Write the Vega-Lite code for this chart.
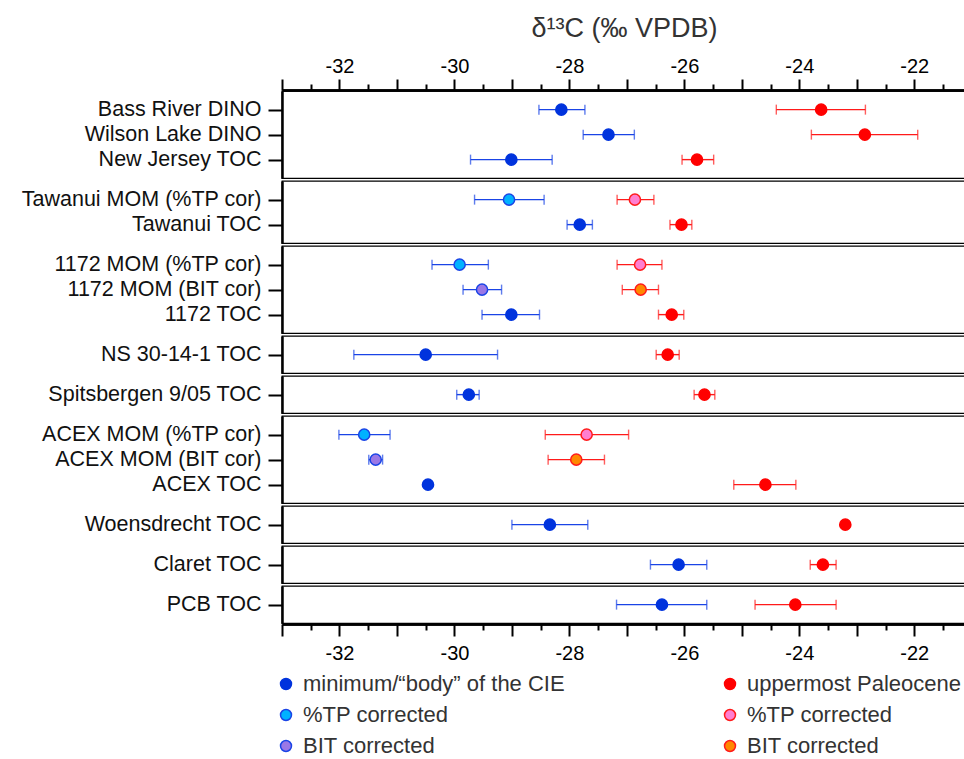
{
  "$schema": "https://vega.github.io/schema/vega-lite/v6.json",
  "padding": {"left": 20, "top": 14, "right": 0, "bottom": 0},
  "background": "white",
  "config": {
    "font": "Liberation Sans",
    "view": {"stroke": "#000", "strokeWidth": 1.3},
    "axis": {"grid": false, "domainColor": "#000", "tickColor": "#000", "labelColor": "#000", "labelFont": "Liberation Sans", "titleFont": "Liberation Sans"},
    "legend": {"labelFont": "Liberation Sans"}
  },
  "data": {"values": [
    {"group": "g1", "sample": "Bass River DINO", "series": "CIE", "x": -28.14, "lo": -28.53, "hi": -27.73},
    {"group": "g1", "sample": "Bass River DINO", "series": "Pal", "x": -23.62, "lo": -24.40, "hi": -22.85},
    {"group": "g1", "sample": "Wilson Lake DINO", "series": "CIE", "x": -27.32, "lo": -27.76, "hi": -26.87},
    {"group": "g1", "sample": "Wilson Lake DINO", "series": "Pal", "x": -22.86, "lo": -23.79, "hi": -21.94},
    {"group": "g1", "sample": "New Jersey TOC", "series": "CIE", "x": -29.01, "lo": -29.72, "hi": -28.30},
    {"group": "g1", "sample": "New Jersey TOC", "series": "Pal", "x": -25.78, "lo": -26.04, "hi": -25.49},
    {"group": "g2", "sample": "Tawanui MOM (%TP cor)", "series": "CIE_TP", "x": -29.05, "lo": -29.65, "hi": -28.44},
    {"group": "g2", "sample": "Tawanui MOM (%TP cor)", "series": "Pal_TP", "x": -26.86, "lo": -27.17, "hi": -26.53},
    {"group": "g2", "sample": "Tawanui TOC", "series": "CIE", "x": -27.82, "lo": -28.04, "hi": -27.60},
    {"group": "g2", "sample": "Tawanui TOC", "series": "Pal", "x": -26.05, "lo": -26.25, "hi": -25.87},
    {"group": "g3", "sample": "1172 MOM (%TP cor)", "series": "CIE_TP", "x": -29.91, "lo": -30.39, "hi": -29.41},
    {"group": "g3", "sample": "1172 MOM (%TP cor)", "series": "Pal_TP", "x": -26.77, "lo": -27.17, "hi": -26.39},
    {"group": "g3", "sample": "1172 MOM (BIT cor)", "series": "CIE_BIT", "x": -29.52, "lo": -29.85, "hi": -29.18},
    {"group": "g3", "sample": "1172 MOM (BIT cor)", "series": "Pal_BIT", "x": -26.76, "lo": -27.08, "hi": -26.45},
    {"group": "g3", "sample": "1172 TOC", "series": "CIE", "x": -29.01, "lo": -29.52, "hi": -28.52},
    {"group": "g3", "sample": "1172 TOC", "series": "Pal", "x": -26.22, "lo": -26.45, "hi": -26.01},
    {"group": "g4", "sample": "NS 30-14-1 TOC", "series": "CIE", "x": -30.50, "lo": -31.75, "hi": -29.25},
    {"group": "g4", "sample": "NS 30-14-1 TOC", "series": "Pal", "x": -26.29, "lo": -26.49, "hi": -26.09},
    {"group": "g5", "sample": "Spitsbergen 9/05 TOC", "series": "CIE", "x": -29.75, "lo": -29.96, "hi": -29.57},
    {"group": "g5", "sample": "Spitsbergen 9/05 TOC", "series": "Pal", "x": -25.65, "lo": -25.83, "hi": -25.47},
    {"group": "g6", "sample": "ACEX MOM (%TP cor)", "series": "CIE_TP", "x": -31.57, "lo": -32.01, "hi": -31.12},
    {"group": "g6", "sample": "ACEX MOM (%TP cor)", "series": "Pal_TP", "x": -27.70, "lo": -28.42, "hi": -26.97},
    {"group": "g6", "sample": "ACEX MOM (BIT cor)", "series": "CIE_BIT", "x": -31.37, "lo": -31.49, "hi": -31.25},
    {"group": "g6", "sample": "ACEX MOM (BIT cor)", "series": "Pal_BIT", "x": -27.88, "lo": -28.37, "hi": -27.39},
    {"group": "g6", "sample": "ACEX TOC", "series": "CIE", "x": -30.46, "lo": -30.50, "hi": -30.42},
    {"group": "g6", "sample": "ACEX TOC", "series": "Pal", "x": -24.59, "lo": -25.14, "hi": -24.06},
    {"group": "g7", "sample": "Woensdrecht TOC", "series": "CIE", "x": -28.34, "lo": -29.00, "hi": -27.68},
    {"group": "g7", "sample": "Woensdrecht TOC", "series": "Pal", "x": -23.20, "lo": -23.24, "hi": -23.16},
    {"group": "g8", "sample": "Claret TOC", "series": "CIE", "x": -26.10, "lo": -26.59, "hi": -25.61},
    {"group": "g8", "sample": "Claret TOC", "series": "Pal", "x": -23.59, "lo": -23.81, "hi": -23.36},
    {"group": "g9", "sample": "PCB TOC", "series": "CIE", "x": -26.39, "lo": -27.18, "hi": -25.61},
    {"group": "g9", "sample": "PCB TOC", "series": "Pal", "x": -24.07, "lo": -24.77, "hi": -23.36}
  ]},
  "facet": {"row": {"field": "group", "type": "nominal", "header": {"labels": false, "title": null, "labelPadding": 0, "titlePadding": 0}}},
  "spacing": {"row": 1},
  "resolve": {"scale": {"y": "independent"}},
  "spec": {
    "width": 684,
    "height": {"step": 25},
    "resolve": {"axis": {"x": "independent"}},
    "layer": [
      {
        "mark": {"type": "rule", "strokeWidth": 1.4},
        "encoding": {
          "y": {"field": "sample", "type": "nominal", "sort": null, "title": null, "scale": {"type": "point", "padding": 0.745},
                "axis": {"labelFontSize": 21.5, "labelColor": "#111", "labelLimit": 400, "tickSize": 14, "tickWidth": 2, "domainWidth": 2.5, "labelPadding": 7}},
          "x": {"field": "lo", "type": "quantitative", "scale": {"domain": [-33, -21.1], "nice": false, "zero": false},
                "axis": {"orient": "top", "values": [-33, -32, -31, -30, -29, -28, -27, -26, -25, -24, -23, -22],
                         "labelExpr": "datum.value % 2 == 0 ? '' + datum.value : ''", "tickSize": 11, "tickWidth": 2, "domainWidth": 2.5,
                         "labelFontSize": 20, "labelPadding": 3, "labelFlush": false,
                         "title": "δ¹³C (‰ VPDB)", "titleFontSize": 27, "titleFontWeight": "normal", "titleColor": "#333", "titlePadding": 14}},
          "x2": {"field": "hi"},
          "color": {"condition": {"test": "indexof(datum.series, 'CIE') == 0", "value": "#1a44e6"}, "value": "#ff1a1a"}
        }
      },
      {
        "mark": {"type": "tick", "thickness": 1.4, "size": 10},
        "encoding": {
          "y": {"field": "sample", "type": "nominal", "sort": null, "title": null},
          "x": {"field": "lo", "type": "quantitative",
                "axis": {"orient": "top", "values": [-32.5, -31.5, -30.5, -29.5, -28.5, -27.5, -26.5, -25.5, -24.5, -23.5, -22.5, -21.5],
                         "labels": false, "tickSize": 6, "tickWidth": 2, "domainWidth": 2.5, "title": null}},
          "color": {"condition": {"test": "indexof(datum.series, 'CIE') == 0", "value": "#1a44e6"}, "value": "#ff1a1a"}
        }
      },
      {
        "mark": {"type": "tick", "thickness": 1.4, "size": 10},
        "encoding": {
          "y": {"field": "sample", "type": "nominal", "sort": null, "title": null},
          "x": {"field": "hi", "type": "quantitative",
                "axis": {"orient": "bottom", "values": [-33, -32, -31, -30, -29, -28, -27, -26, -25, -24, -23, -22],
                         "labelExpr": "datum.value % 2 == 0 ? '' + datum.value : ''", "tickSize": 12, "tickWidth": 2, "domainWidth": 2.5,
                         "labelFontSize": 20, "labelPadding": 7, "labelFlush": false, "title": null}},
          "color": {"condition": {"test": "indexof(datum.series, 'CIE') == 0", "value": "#1a44e6"}, "value": "#ff1a1a"}
        }
      },
      {
        "mark": {"type": "point", "filled": true, "size": 125, "strokeWidth": 1.5, "opacity": 1},
        "encoding": {
          "y": {"field": "sample", "type": "nominal", "sort": null, "title": null},
          "x": {"field": "x", "type": "quantitative",
                "axis": {"orient": "bottom", "values": [-32.5, -31.5, -30.5, -29.5, -28.5, -27.5, -26.5, -25.5, -24.5, -23.5, -22.5, -21.5],
                         "labels": false, "tickSize": 6, "tickWidth": 2, "domainWidth": 2.5, "title": null}},
          "fill": {"field": "series", "type": "nominal",
                   "scale": {"domain": ["CIE", "CIE_TP", "CIE_BIT", "Pal", "Pal_TP", "Pal_BIT"], "range": ["#0033dd", "#00b2ff", "#9a78e6", "#ff0000", "#ff7fd0", "#ff8800"]},
                   "legend": {"orient": "none", "legendX": -7, "legendY": 582, "columns": 2, "columnPadding": 154, "rowPadding": 9, "symbolSize": 120, "symbolStrokeWidth": 1.5, "symbolType": "circle", "labelFontSize": 22, "labelColor": "#333", "labelOffset": 6, "labelLimit": 400, "title": null, "padding": 0,
                              "labelExpr": "datum.label == 'CIE' ? 'minimum/“body” of the CIE' : datum.label == 'Pal' ? 'uppermost Paleocene' : indexof(datum.label, 'TP') >= 0 ? '%TP corrected' : 'BIT corrected'"}},
          "stroke": {"field": "series", "type": "nominal",
                     "scale": {"domain": ["CIE", "CIE_TP", "CIE_BIT", "Pal", "Pal_TP", "Pal_BIT"], "range": ["#0033dd", "#1a44e6", "#1a44e6", "#ff0000", "#ff1a1a", "#ff1a1a"]},
                     "legend": {"orient": "none", "legendX": -7, "legendY": 582, "columns": 2, "columnPadding": 154, "rowPadding": 9, "symbolSize": 120, "symbolStrokeWidth": 1.5, "symbolType": "circle", "labelFontSize": 22, "labelColor": "#333", "labelOffset": 6, "labelLimit": 400, "title": null, "padding": 0,
                                "labelExpr": "datum.label == 'CIE' ? 'minimum/“body” of the CIE' : datum.label == 'Pal' ? 'uppermost Paleocene' : indexof(datum.label, 'TP') >= 0 ? '%TP corrected' : 'BIT corrected'"}}
        }
      }
    ]
  }
}
